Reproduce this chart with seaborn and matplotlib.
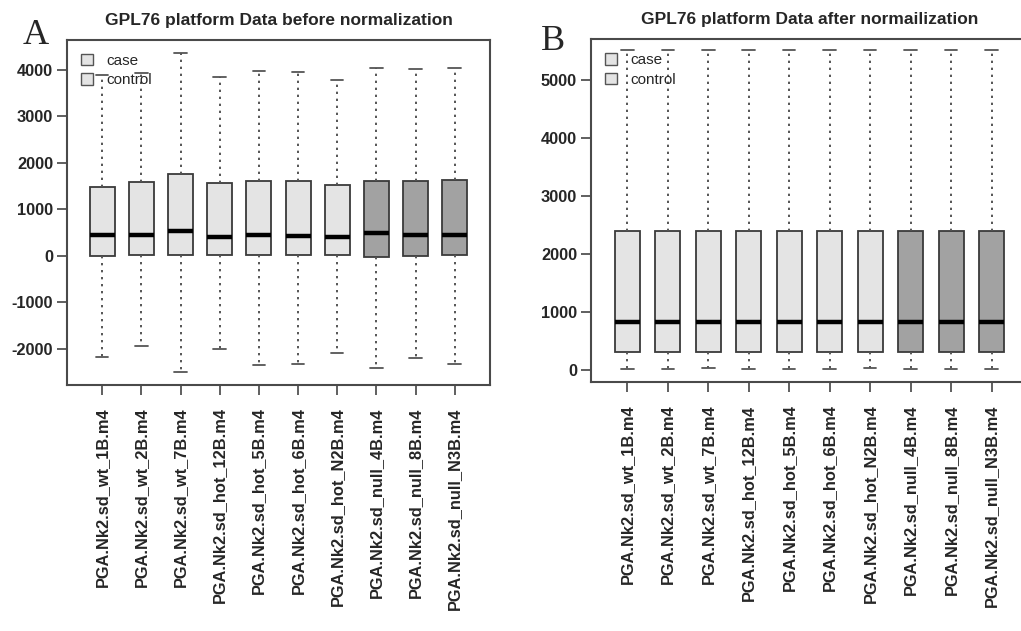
import numpy as np
import pandas as pd
import matplotlib
matplotlib.use("Agg")
import matplotlib.pyplot as plt
import seaborn as sns
from matplotlib.patches import Patch

samples = ["PGA.Nk2.sd_wt_1B.m4", "PGA.Nk2.sd_wt_2B.m4", "PGA.Nk2.sd_wt_7B.m4",
           "PGA.Nk2.sd_hot_12B.m4", "PGA.Nk2.sd_hot_5B.m4", "PGA.Nk2.sd_hot_6B.m4",
           "PGA.Nk2.sd_hot_N2B.m4", "PGA.Nk2.sd_null_4B.m4", "PGA.Nk2.sd_null_8B.m4",
           "PGA.Nk2.sd_null_N3B.m4"]
groups = ["case"] * 7 + ["control"] * 3

# five-number summaries: min, q1, median, q3, max
before_min = [-2165, -1928, -2502, -2007, -2337, -2315, -2086, -2409, -2201, -2315]
before_q1 = [0, 28, 28, 28, 28, 28, 28, -21, 0, 28]
before_med = [445, 445, 530, 410, 459, 437, 401, 502, 445, 445]
before_q3 = [1490, 1591, 1770, 1570, 1613, 1605, 1534, 1605, 1613, 1634]
before_max = [3900, 3942, 4358, 3857, 3985, 3964, 3785, 4036, 4029, 4036]

after_min = [12, 12, 40, 12, 12, 12, 40, 12, 12, 12]
after_q1 = [316] * 10
after_med = [829] * 10
after_q3 = [2390] * 10
after_max = [5518] * 10

palette = {"case": "#e4e4e4", "control": "#a2a2a2"}


def long_table(mins, q1s, meds, q3s, maxs):
    rows = []
    for s, g, *vals in zip(samples, groups, mins, q1s, meds, q3s, maxs):
        for v in vals:
            rows.append({"sample": s, "group": g, "value": v})
    return pd.DataFrame(rows)


sns.set_style("white")
plt.rcParams["font.family"] = ["Liberation Sans", "DejaVu Sans"]

fig = plt.figure(figsize=(10.21, 6.31), dpi=100)
axA = fig.add_axes([0.0656, 0.3899, 0.4143, 0.5467])
axB = fig.add_axes([0.5788, 0.3941, 0.4280, 0.5436])

panels = [
    (axA, long_table(before_min, before_q1, before_med, before_q3, before_max),
     "GPL76 platform Data before normalization", (-2774, 4645), np.arange(-2000, 4001, 1000), 0.64),
    (axB, long_table(after_min, after_q1, after_med, after_q3, after_max),
     "GPL76 platform Data after normailization", (-212, 5703), np.arange(0, 5001, 1000), 0.62),
]

for ax, df, title, ylim, yticks, w in panels:
    sns.boxplot(data=df, x="sample", y="value", hue="group", palette=palette,
                dodge=False, whis=(0, 100), width=w, linecolor="#3a3a3a", linewidth=1.3,
                legend=False, ax=ax,
                medianprops={"color": "black", "linewidth": 3.2},
                whiskerprops={"linestyle": (0, (1.2, 2.4)), "color": "#555555", "linewidth": 1.4},
                capprops={"color": "#555555", "linewidth": 1.3})
    ax.set_xlim(-0.9, 9.9)
    ax.set_ylim(*ylim)
    ax.set_yticks(yticks)
    ax.set_xticks(range(len(samples)))
    ax.set_xticklabels(samples, rotation=90, fontsize=11.8, fontweight="bold")
    ax.set_yticklabels([str(t) for t in yticks], fontsize=11.8, fontweight="bold")
    ax.tick_params(axis="both", direction="out", length=7, width=1.2, color="#444444",
                   bottom=True, left=True, pad=3)
    ax.tick_params(axis="x", pad=9)
    for sp in ax.spines.values():
        sp.set_color("#4a4a4a")
        sp.set_linewidth(1.5)
    ax.set_xlabel("")
    ax.set_ylabel("")
    ax.set_title(title, fontsize=12.5, fontweight="bold", pad=11)
    handles = [Patch(facecolor="#e4e4e4", edgecolor="#555555", label="case"),
               Patch(facecolor="#e4e4e4", edgecolor="#555555", label="control")]
    ax.legend(handles=handles, loc="upper left", frameon=False, fontsize=11,
              handlelength=0.8, handleheight=0.8, handletextpad=0.9, labelspacing=0.35,
              borderaxespad=0.5)

fig.text(0.022, 0.93, "A", family="Liberation Serif", fontsize=26)
fig.text(0.530, 0.92, "B", family="Liberation Serif", fontsize=26)

fig.savefig("out.png", dpi=100)
